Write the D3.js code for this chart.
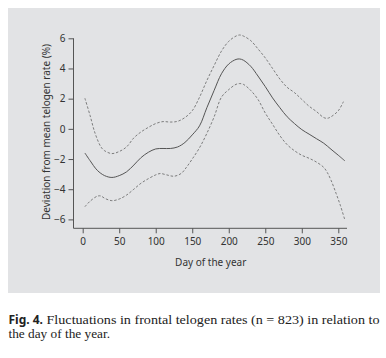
<!DOCTYPE html>
<html><head><meta charset="utf-8">
<script src="https://cdn.jsdelivr.net/npm/d3@7"></script>
<style>body{margin:0;background:#fff}</style>
</head><body><div id="c"></div>
<script>
const xTicks=[0,50,100,150,200,250,300,350];
const yTicks=[-6,-4,-2,0,2,4,6];
const meanDays=[3,10,20,30,40,50,60,70,80,90,100,110,120,130,140,150,160,170,180,190,200,210,215,220,230,240,250,260,270,280,290,300,310,320,330,340,350,359];
const meanVals=[-1.6,-2.1,-2.75,-3.1,-3.22,-3.1,-2.85,-2.4,-1.9,-1.55,-1.33,-1.3,-1.3,-1.2,-0.9,-0.4,0.2,1.4,2.55,3.65,4.3,4.6,4.63,4.55,4.15,3.5,2.8,2.05,1.4,0.8,0.35,-0.05,-0.35,-0.65,-0.95,-1.35,-1.75,-2.12];
const upperDays=[3,10,17,25,30,40,50,60,70,80,90,100,110,120,130,140,150,160,170,180,190,200,210,215,220,230,240,250,260,270,280,290,300,310,320,330,335,340,350,357];
const upperVals=[2.03,0.9,-0.3,-1.2,-1.45,-1.64,-1.5,-1.2,-0.6,-0.2,0.1,0.35,0.48,0.45,0.5,0.75,1.2,2.1,3.2,4.2,5.15,5.8,6.15,6.22,6.15,5.85,5.3,4.7,4.0,3.3,2.75,2.4,1.95,1.5,1.15,0.75,0.7,0.8,1.2,1.8];
const lowerDays=[3,10,20,25,30,40,50,60,70,80,90,100,106,115,125,135,142,150,160,170,180,190,200,210,215,220,230,240,250,260,270,280,290,300,310,320,330,335,340,347,353,359];
const lowerVals=[-5.16,-4.8,-4.46,-4.45,-4.6,-4.76,-4.65,-4.39,-4.0,-3.6,-3.3,-3.05,-2.96,-3.05,-3.14,-2.95,-2.55,-2.0,-1.25,-0.3,0.8,2.1,2.6,2.95,3.0,2.95,2.55,1.95,1.05,0.3,-0.45,-1.05,-1.45,-1.75,-1.95,-2.2,-2.55,-2.9,-3.4,-4.28,-5.1,-6.04];

const W=386,H=358;
const svg=d3.select("#c").append("svg").attr("width",W).attr("height",H);
svg.append("rect").attr("x",8).attr("y",8).attr("width",372).attr("height",285).attr("fill","#e2e3e5");

const x=d3.scaleLinear().domain([0,350]).range([82.7,338.3]);
const y=d3.scaleLinear().domain([-6,6]).range([219.4,38.3]);
const x0=73.5, x1=347, yb=228.3;

const axCol="#555";
const font="'Noto Sans', 'Open Sans', sans-serif";
svg.append("line").attr("x1",x0).attr("x2",x0).attr("y1",y(6)).attr("y2",yb).attr("stroke",axCol).attr("stroke-width",1);
svg.append("line").attr("x1",x0).attr("x2",x1).attr("y1",yb).attr("y2",yb).attr("stroke",axCol).attr("stroke-width",1);

const gy=svg.append("g").attr("transform",`translate(${x0},0)`)
  .call(d3.axisLeft(y).tickValues(yTicks).tickSize(5).tickPadding(3).tickFormat(d=>d<0?"\u2212"+Math.abs(d):d));
const gx=svg.append("g").attr("transform",`translate(0,${yb})`)
  .call(d3.axisBottom(x).tickValues(xTicks).tickSize(5).tickPadding(5));
[gx,gy].forEach(g=>{
  g.select(".domain").remove();
  g.selectAll("line").attr("stroke",axCol);
  g.selectAll("text").attr("fill","#333").style("font-family",font).style("font-size","10px");
});

const line=d3.line().x(d=>x(d[0])).y(d=>y(d[1])).curve(d3.curveCatmullRom.alpha(0.5));
const mk=(ds,vs)=>ds.map((d,i)=>[d,vs[i]]);
svg.append("path").attr("d",line(mk(upperDays,upperVals))).attr("fill","none").attr("stroke","#707070").attr("stroke-width",0.9).attr("stroke-dasharray","2.5,1.8");
svg.append("path").attr("d",line(mk(lowerDays,lowerVals))).attr("fill","none").attr("stroke","#707070").attr("stroke-width",0.9).attr("stroke-dasharray","2.5,1.8");
svg.append("path").attr("d",line(mk(meanDays,meanVals))).attr("fill","none").attr("stroke","#555").attr("stroke-width",1);

svg.append("text").attr("x",210.7).attr("y",265.5).attr("text-anchor","middle")
  .style("font-family",font).style("font-size","10px").attr("fill","#333").text("Day of the year");
svg.append("text").attr("transform","translate(49.5,132) rotate(-90)").attr("text-anchor","middle")
  .style("font-family",font).style("font-size","10px").attr("fill","#333").text("Deviation from mean telogen rate (%)");

svg.append("text").attr("x",8.5).attr("y",323.5).style("font-size","12px").attr("fill","#222")
  .style("font-family",font).style("font-weight","bold")
  .attr("textLength",34.5).attr("lengthAdjust","spacingAndGlyphs").text("Fig. 4.");
svg.append("text").attr("x",46.5).attr("y",323.5).style("font-size","13.3px").attr("fill","#222")
  .style("font-family","'Liberation Serif', serif")
  .attr("textLength",333).attr("lengthAdjust","spacingAndGlyphs")
  .text("Fluctuations in frontal telogen rates (n = 823) in relation to");
svg.append("text").attr("x",8.5).attr("y",338).style("font-size","13.3px").attr("fill","#222")
  .style("font-family","'Liberation Serif', serif").text("the day of the year.");
</script></body></html>
